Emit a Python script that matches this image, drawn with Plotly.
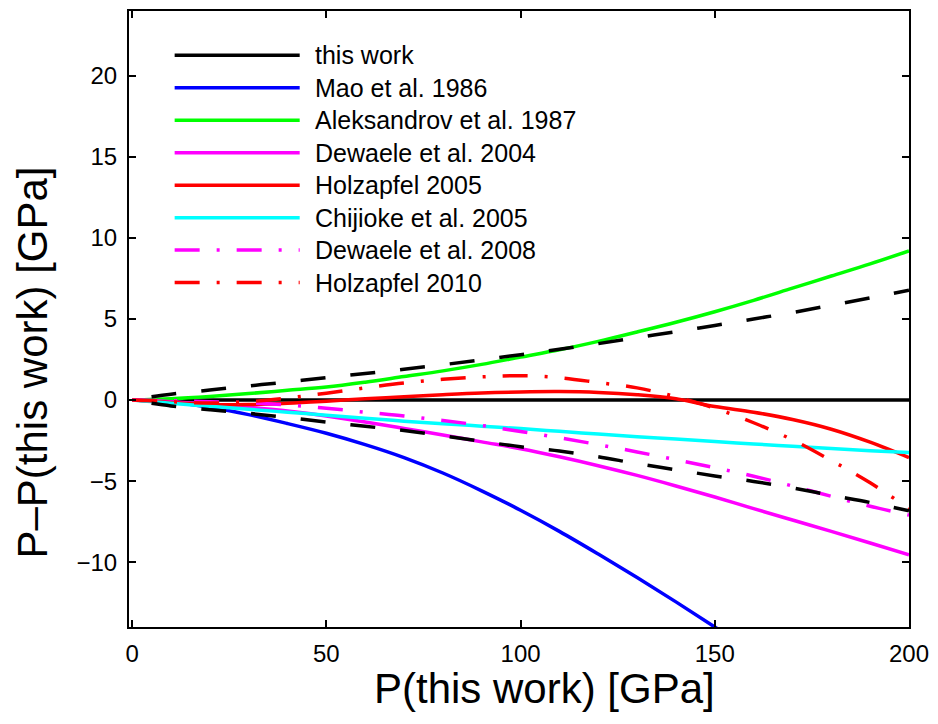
import plotly.graph_objects as go

# Pressure grid of "this work" [GPa]
P = [0, 10, 20, 30, 40, 50, 60, 70, 80, 90, 100,
     110, 120, 130, 140, 150, 160, 170, 180, 190, 200]

# Differences P - P(this work) [GPa] for each pressure scale
this_work = [0.0] * len(P)
mao_1986 = [0, -0.12, -0.45, -0.9, -1.45, -2.05, -2.75, -3.55, -4.5, -5.6, -6.8,
            -8.1, -9.5, -10.95, -12.45, -14.0, -15.6]
aleksandrov_1987 = [0, 0.08, 0.22, 0.4, 0.6, 0.8, 1.1, 1.45, 1.8, 2.2, 2.65,
                    3.1, 3.62, 4.2, 4.8, 5.45, 6.15, 6.9, 7.65, 8.4, 9.2]
dewaele_2004 = [0, -0.1, -0.25, -0.45, -0.68, -0.98, -1.35, -1.75, -2.15, -2.58, -3.0,
                -3.5, -4.05, -4.65, -5.3, -5.98, -6.7, -7.4, -8.1, -8.82, -9.55]
holzapfel_2005 = [0, -0.15, -0.27, -0.28, -0.2, -0.07, 0.08, 0.2, 0.33, 0.44, 0.5,
                  0.52, 0.47, 0.33, 0.08, -0.4, -0.75, -1.2, -1.8, -2.6, -3.55]
chijioke_2005 = [0, -0.2, -0.38, -0.57, -0.75, -0.93, -1.12, -1.3, -1.46, -1.61, -1.76,
                 -1.93, -2.1, -2.26, -2.41, -2.56, -2.71, -2.85, -2.99, -3.12, -3.24]
dewaele_2008 = [0, -0.04, -0.1, -0.17, -0.3, -0.5, -0.75, -0.98, -1.26, -1.57, -1.94,
                -2.33, -2.75, -3.2, -3.68, -4.17, -4.7, -5.3, -5.94, -6.55, -7.1]
holzapfel_2010 = [0, -0.1, -0.18, -0.1, 0.13, 0.42, 0.75, 1.05, 1.28, 1.43, 1.5,
                  1.38, 1.08, 0.75, 0.2, -0.5, -1.4, -2.45, -3.73, -5.1, -6.7]

# Uncertainty envelope of this work
BAND_P = [5, 10, 20, 30, 40, 50, 60, 70, 80, 90, 100,
          110, 120, 130, 140, 150, 160, 170, 180, 190, 200]
band_upper = [0.2, 0.36, 0.62, 0.87, 1.12, 1.38, 1.64, 1.9, 2.18, 2.48, 2.8,
              3.13, 3.48, 3.85, 4.22, 4.6, 5.0, 5.4, 5.85, 6.3, 6.78]
band_lower = [-0.2, -0.36, -0.6, -0.82, -1.08, -1.36, -1.62, -1.88, -2.2, -2.55, -2.88,
              -3.14, -3.5, -3.92, -4.3, -4.68, -5.02, -5.42, -5.88, -6.32, -6.83]

X_TICKS = [0, 50, 100, 150, 200]
Y_TICKS = [-10, -5, 0, 5, 10, 15, 20]

DASHDOT = "25px,17px,3px,17px"
DASHED = "25px,25px"

series = [
    ("this work", P, this_work, "#000000", "solid"),
    ("Mao et al. 1986", P[:len(mao_1986)], mao_1986, "#0000FF", "solid"),
    ("Aleksandrov et al. 1987", P, aleksandrov_1987, "#00FF00", "solid"),
    ("Dewaele et al. 2004", P, dewaele_2004, "#FF00FF", "solid"),
    ("Holzapfel 2005", P, holzapfel_2005, "#FF0000", "solid"),
    ("Chijioke et al. 2005", P, chijioke_2005, "#00FFFF", "solid"),
    ("Dewaele et al. 2008", P, dewaele_2008, "#FF00FF", DASHDOT),
    ("Holzapfel 2010", P, holzapfel_2010, "#FF0000", DASHDOT),
]

LW = 3.5
fig = go.Figure()
for name, xs, ys, color, dash in series:
    fig.add_trace(go.Scatter(x=xs, y=ys, mode="lines", name=name, showlegend=False,
                             line=dict(color=color, width=LW, dash=dash, shape="spline")))
for ys in (band_upper, band_lower):
    fig.add_trace(go.Scatter(x=BAND_P, y=ys, mode="lines", showlegend=False,
                             line=dict(color="#000000", width=LW, dash=DASHED, shape="spline")))

W, H = 938, 724
ML, MR, MT, MB = 129, 23, 9, 97
PW, PH = W - ML - MR, H - MT - MB


def px_x(px):
    return (px - ML) / PW


def px_y(py):
    return 1 - (py - MT) / PH


# Legend drawn as line samples plus labels, MATLAB style
shapes = []
annotations = []
row0, row_gap = 53.3, 32.6
for i, (name, xs, ys, color, dash) in enumerate(series):
    yy = px_y(row0 + i * row_gap)
    shapes.append(dict(type="line", xref="paper", yref="paper",
                       x0=px_x(175), x1=px_x(301), y0=yy, y1=yy,
                       line=dict(color=color, width=LW, dash=dash)))
    annotations.append(dict(text=name, xref="paper", yref="paper", x=px_x(314), y=yy,
                            xanchor="left", yanchor="middle", showarrow=False,
                            font=dict(size=25, color="black")))

annotations.append(dict(text="P(this work) [GPa]", xref="paper", yref="paper",
                        x=px_x(548), y=px_y(689), xanchor="center", yanchor="middle",
                        showarrow=False, font=dict(size=42, color="black")))
annotations.append(dict(text="P\u2013P(this work) [GPa]", xref="paper", yref="paper",
                        x=px_x(32), y=px_y(362), xanchor="center", yanchor="middle",
                        textangle=-90, showarrow=False, font=dict(size=42, color="black")))

axis_common = dict(showgrid=False, zeroline=False, showline=True, linecolor="black",
                   linewidth=2, mirror="ticks", ticks="inside", ticklen=7, tickwidth=2,
                   tickcolor="black", tickfont=dict(size=24, color="black"),
                   ticklabeloverflow="allow")

fig.update_layout(
    width=W, height=H,
    margin=dict(l=ML, r=MR, t=MT, b=MB),
    paper_bgcolor="white", plot_bgcolor="white",
    font=dict(family="Liberation Sans, Arial, sans-serif", color="black"),
    xaxis=dict(range=[-0.8, 200], tickvals=X_TICKS, ticklabelstandoff=4, **axis_common),
    yaxis=dict(range=[-14, 24], tickvals=Y_TICKS, ticklabelstandoff=5, **axis_common),
    shapes=shapes,
    annotations=annotations,
    showlegend=False,
)

fig.write_html("out.html")
